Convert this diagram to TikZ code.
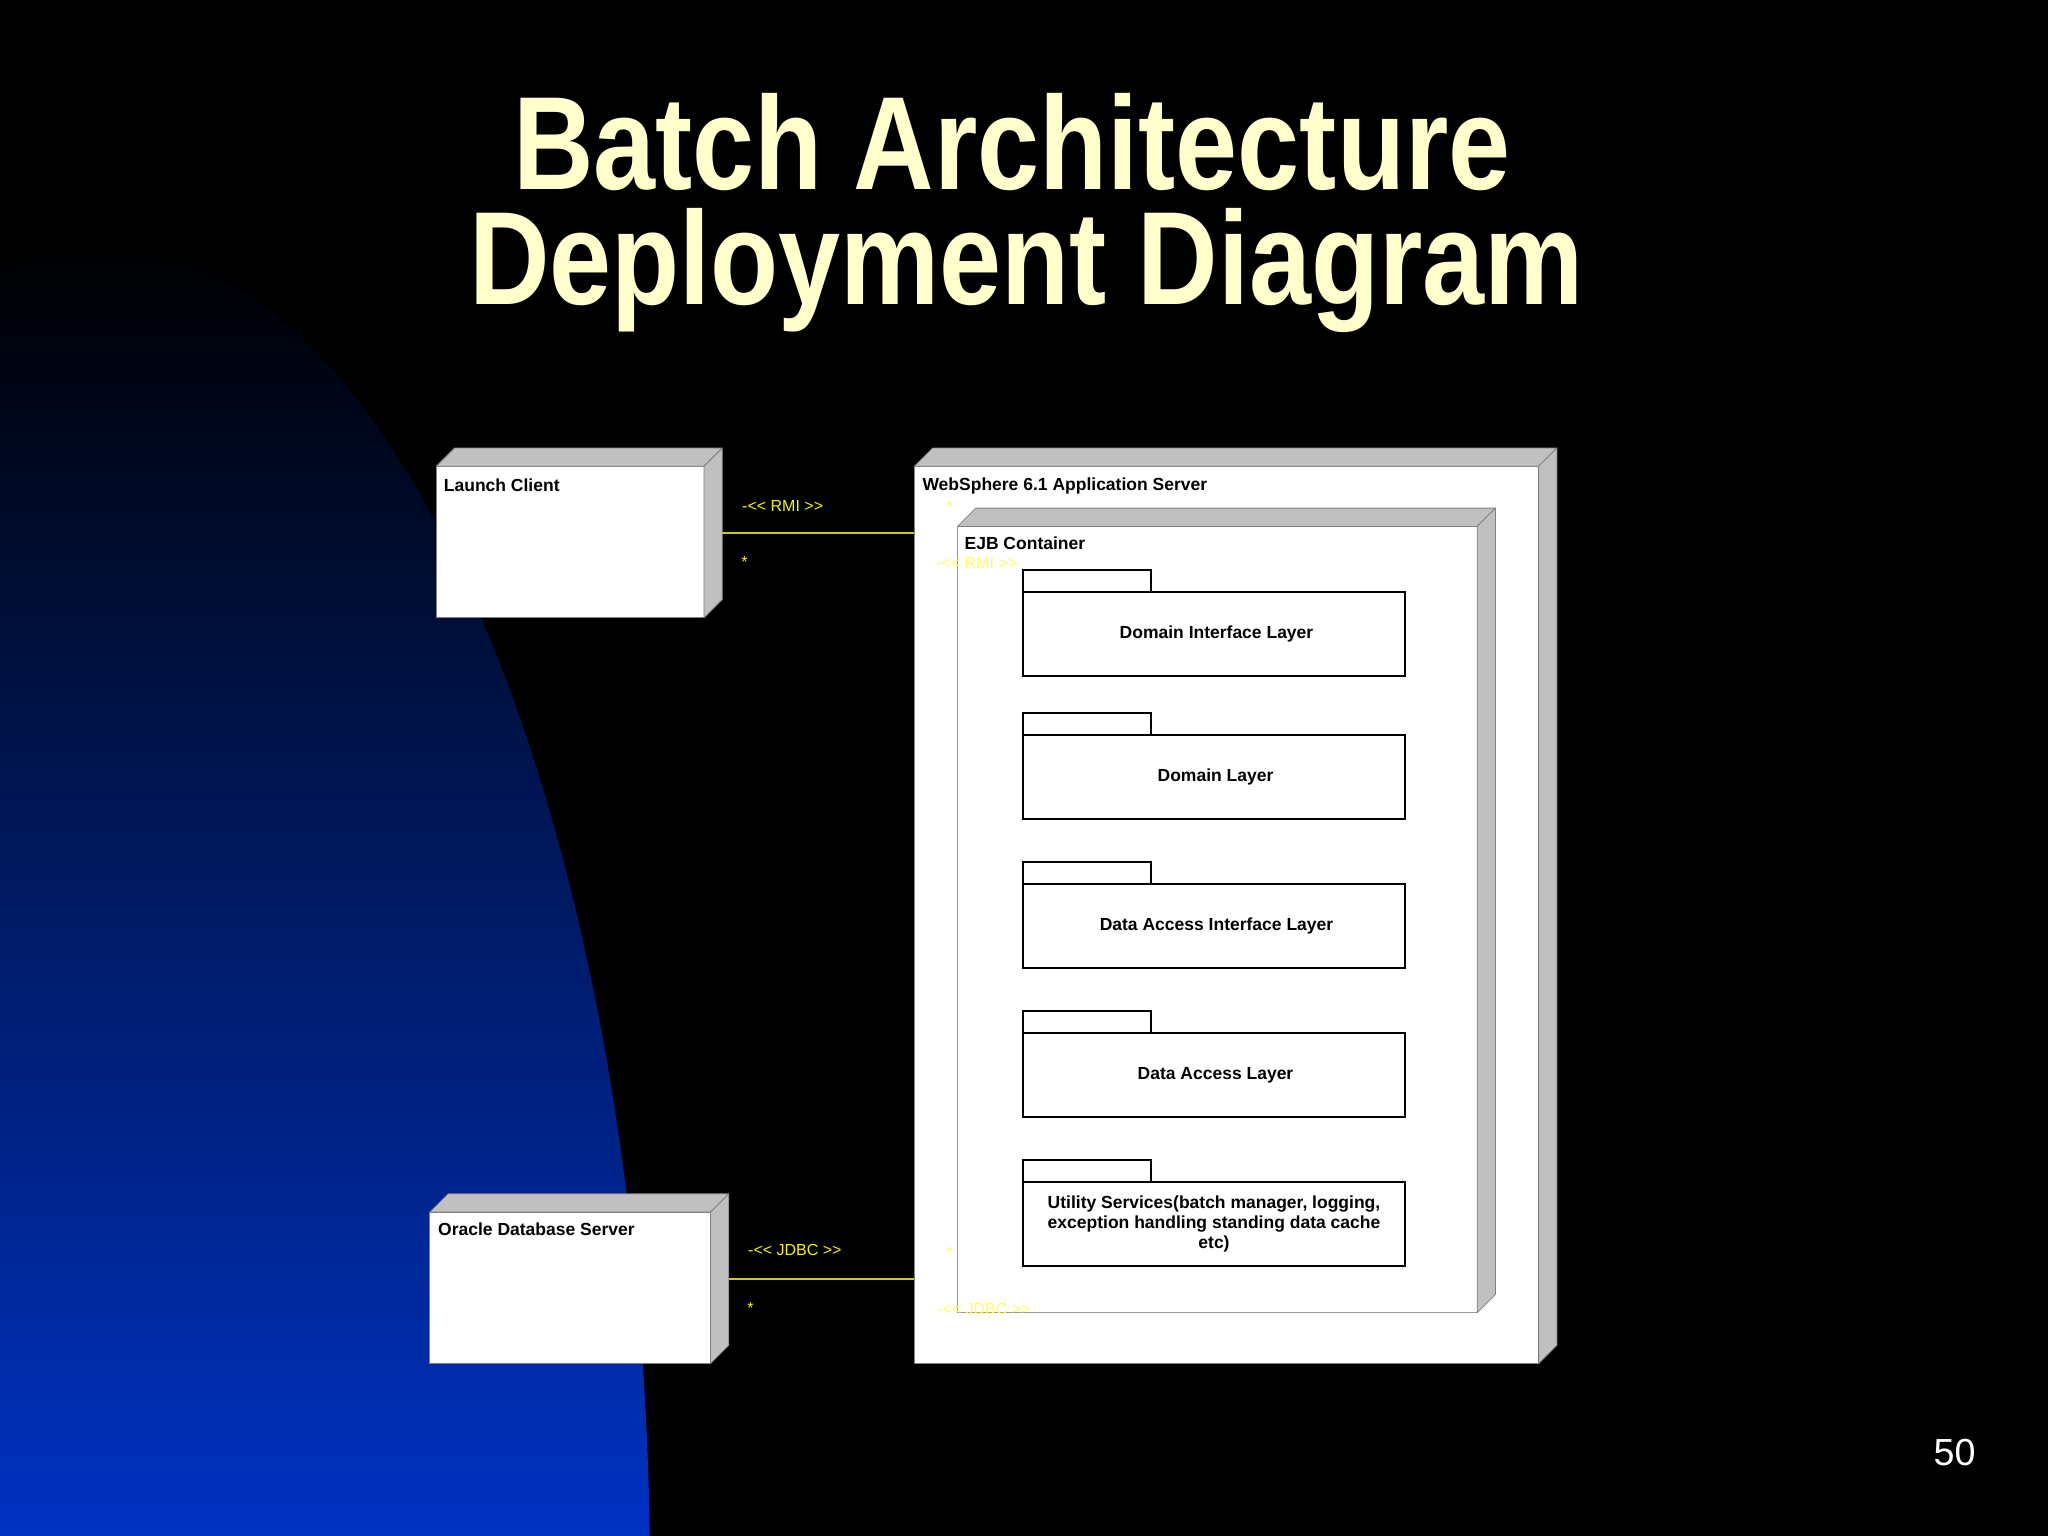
\documentclass[tikz,border=0pt]{standalone}
\usepackage{fontspec}
\setmainfont{Liberation Sans}
\newfontfamily\titlefont[FakeStretch=0.84]{Liberation Sans}

\definecolor{blueedge}{RGB}{0,50,195}
\definecolor{titlecol}{HTML}{FFFFCC}
\definecolor{facegray}{HTML}{C0C0C0}
\definecolor{edgegray}{HTML}{808080}
\definecolor{tagyellow}{HTML}{F5F500}
\definecolor{linkyellow}{HTML}{C8C828}
\definecolor{paleyellow}{HTML}{FFFF55}

\newcommand{\dep}{18.3}
\newcommand{\ltag}{-<\kern0pt<}
\newcommand{\rtag}{>\kern0pt>}
% top and side faces of a node box
\newcommand{\boxfaces}[1]{%
  \filldraw[face] (#1.north west) -- ++(\dep,-\dep) -- ([shift={(\dep,-\dep)}]#1.north east) -- (#1.north east) -- cycle;
  \filldraw[face] (#1.north east) -- ++(\dep,-\dep) -- ([shift={(\dep,-\dep)}]#1.south east) -- (#1.south east) -- cycle;}

\begin{document}
\begin{tikzpicture}[x=1pt,y=-1pt,
    face/.style={fill=facegray,draw=edgegray,line width=0.8pt,line join=round},
    nodebox/.style={draw=edgegray,fill=white,line width=1pt,inner sep=0pt,outer sep=0pt},
    pkg/.style={draw=black,fill=white,line width=1.4pt,inner sep=0pt,outer sep=0pt,minimum width=382pt,minimum height=84pt,align=center,font=\fontsize{17.5}{20}\selectfont\bfseries},
    pkgtab/.style={draw=black,fill=white,line width=1.4pt},
    boxname/.style={anchor=base west,inner sep=0pt,font=\fontsize{17.5}{20}\selectfont\bfseries},
    conntag/.style={anchor=base west,inner sep=0pt,text=tagyellow,font=\fontsize{16}{18}\selectfont},
    mult/.style={inner sep=0pt,text=tagyellow,font=\fontsize{16}{18}\selectfont},
    link/.style={draw=linkyellow,line width=1.2pt}]
      \fill[black] (0,0) rectangle (2048,1536);
      \useasboundingbox (0,0) rectangle (2048,1536);
      % blue backdrop
      \begin{scope}
        \clip (100,1580) ellipse [x radius=550pt, y radius=1335pt];
        \shade[top color=black, bottom color=blueedge] (0,245) rectangle (660,1536);
      \end{scope}
      \node[anchor=base,inner sep=0pt,align=center,text=titlecol,font=\titlefont\bfseries\fontsize{132.7}{114.6}\selectfont] (title) at (1026.5,304) {Batch Architecture\hspace*{29pt}\\Deployment Diagram};
      % application server
      \node[nodebox,minimum width=624.3pt,minimum height=897.3pt] (was) at (1226.45,914.95) {};
      \boxfaces{was}
      \node[boxname] (was-t) at ([shift={(8,24)}]was.north west) {WebSphere 6.1 Application Server};
      \node[nodebox,draw=edgegray!80,minimum width=519.8pt,minimum height=786.2pt] (ejb) at (1217.3,919.5) {};
      \boxfaces{ejb}
      \node[boxname] (ejb-t) at ([shift={(7,23)}]ejb.north west) {EJB Container};
      % packages
      \node[pkg] (dil) at (1214,634) {\hspace*{5pt}Domain Interface Layer};
      \draw[pkgtab] (dil.north west) rectangle ++(128,-22);
      \node[pkg] (dl) at (1214,777) {\hspace*{3pt}Domain Layer};
      \draw[pkgtab] (dl.north west) rectangle ++(128,-22);
      \node[pkg] (dail) at (1214,926) {\hspace*{5pt}Data Access Interface Layer};
      \draw[pkgtab] (dail.north west) rectangle ++(128,-22);
      \node[pkg] (dal) at (1214,1075) {\hspace*{3pt}Data Access Layer};
      \draw[pkgtab] (dal.north west) rectangle ++(128,-22);
      \node[pkg] (util) at (1214,1224) {Utility Services(batch manager, logging,\\exception handling standing data cache\\etc)};
      \draw[pkgtab] (util.north west) rectangle ++(128,-22);
      % client and database
      \node[nodebox,minimum width=267.8pt,minimum height=151.5pt] (launch) at (570.1,542.05) {};
      \boxfaces{launch}
      \node[boxname] (launch-t) at ([shift={(7.5,24.7)}]launch.north west) {Launch Client};
      \node[nodebox,minimum width=280.8pt,minimum height=151.5pt] (oracle) at (570.1,1287.85) {};
      \boxfaces{oracle}
      \node[boxname] (oracle-t) at ([shift={(8.3,23.5)}]oracle.north west) {Oracle Database Server};
      % connections
      \coordinate (rmi-a) at ([shift={(\dep,-9)}]launch.east);
      \draw[link] (rmi-a) -- (rmi-a -| was.west);
      \coordinate (jdbc-a) at ([shift={(\dep,-8.85)}]oracle.east);
      \draw[link] (jdbc-a) -- (jdbc-a -| was.west);
      \node[conntag] (rmi-l) at (742,511) {\ltag{} RMI \rtag};
      \node[mult] (rmi-m) at (744.6,561.5) {*};
      \node[conntag,text=paleyellow] (rmi-l2) at (936,568) {\ltag{} RMI \rtag};
      \node[mult,text=paleyellow] (rmi-m2) at (949.5,506.4) {*};
      \node[conntag] (jdbc-l) at (748,1255) {\ltag{} JDBC \rtag};
      \node[mult] (jdbc-m) at (750.6,1307.5) {*};
      \node[conntag,text=paleyellow] (jdbc-l2) at (937,1314) {\ltag{} JDBC \rtag};
      \node[mult,text=paleyellow] (jdbc-m2) at (949.8,1251.5) {*};
      \node[anchor=base west,inner sep=0pt,text=white,font=\fontsize{37.7}{40}\selectfont] (pageno) at (1933.4,1465) {50};
\end{tikzpicture}
\end{document}
